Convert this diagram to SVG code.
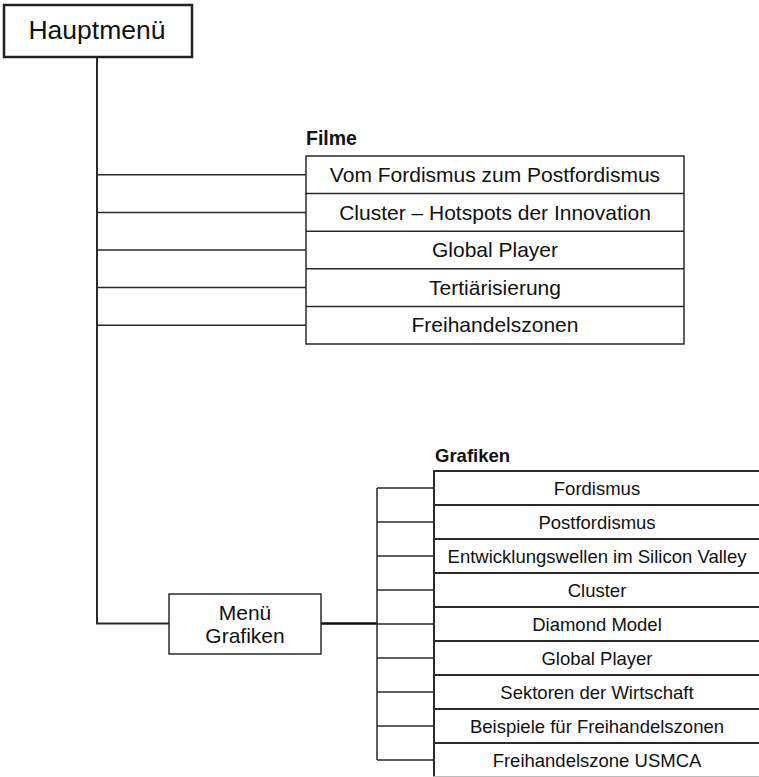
<svg xmlns="http://www.w3.org/2000/svg" width="759" height="777" viewBox="0 0 759 777">
<style>
.box{fill:#fff;stroke:#2a2a2a;stroke-width:1.5}
.main{fill:#fff;stroke:#222;stroke-width:2.5}
.ln{fill:none;stroke:#2a2a2a;stroke-width:1.5}
.t{font-family:"Liberation Sans",Arial,sans-serif;fill:#111;text-anchor:middle}
.f{font-size:21px}
.g{font-size:18.5px}
.h{font-family:"Liberation Sans",Arial,sans-serif;font-weight:bold;fill:#111}
</style>
<rect width="759" height="777" fill="#fff"/>
<g id="connectors">
<path class="ln" d="M97,57 V623.5 H169" style="stroke-width:2"/>
<path class="ln" d="M97,174.8 H306 M97,212.4 H306 M97,250 H306 M97,287.6 H306 M97,325.2 H306"/>
<path class="ln" d="M321,623.5 H377" style="stroke:#111;stroke-width:2.5"/>
<path class="ln" d="M377,488 V760 M377,488 H434 M377,522 H434 M377,556 H434 M377,590 H434 M377,624 H434 M377,658 H434 M377,692 H434 M377,726 H434 M377,760 H434"/>
</g>
<g id="hauptmenue">
<rect class="main" x="4" y="5" width="188" height="52"/>
<text class="t" x="97" y="39" font-size="26.5">Hauptmenü</text>
</g>
<g id="filme">
<text class="h" x="306" y="145" font-size="19.5">Filme</text>
<rect class="box" x="306" y="156" width="378" height="188"/>
<path class="ln" d="M306,193.6 H684 M306,231.2 H684 M306,268.8 H684 M306,306.4 H684"/>
<text class="t f" x="495" y="182">Vom Fordismus zum Postfordismus</text>
<text class="t f" x="495" y="219.6">Cluster – Hotspots der Innovation</text>
<text class="t f" x="495" y="257.2">Global Player</text>
<text class="t f" x="495" y="294.8">Tertiärisierung</text>
<text class="t f" x="495" y="332.4">Freihandelszonen</text>
</g>
<g id="menue-grafiken">
<rect class="box" x="169" y="594" width="152" height="60"/>
<text class="t" x="245" y="620" font-size="21">Menü</text>
<text class="t" x="245" y="643" font-size="21">Grafiken</text>
</g>
<g id="grafiken">
<text class="h" x="435" y="461.5" font-size="18.5">Grafiken</text>
<path class="ln" d="M434,776.5 V471 H759" style="stroke-width:2"/>
<path class="ln" d="M434,776.5 H759" style="stroke:#bbb;stroke-width:1"/>
<path class="ln" d="M434,505 H759 M434,539 H759 M434,573 H759 M434,607 H759 M434,641 H759 M434,675 H759 M434,709 H759 M434,743 H759" style="stroke-width:2"/>
<text class="t g" x="597" y="495">Fordismus</text>
<text class="t g" x="597" y="529">Postfordismus</text>
<text class="t g" x="597" y="563">Entwicklungswellen im Silicon Valley</text>
<text class="t g" x="597" y="597">Cluster</text>
<text class="t g" x="597" y="631">Diamond Model</text>
<text class="t g" x="597" y="665">Global Player</text>
<text class="t g" x="597" y="699">Sektoren der Wirtschaft</text>
<text class="t g" x="597" y="733">Beispiele für Freihandelszonen</text>
<text class="t g" x="597" y="767">Freihandelszone USMCA</text>
</g>
</svg>
